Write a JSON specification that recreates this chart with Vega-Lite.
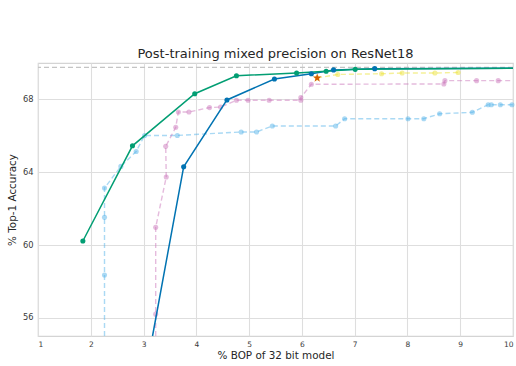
{
  "$schema": "https://vega.github.io/schema/vega-lite/v6.json",
  "autosize": {"type": "none"},
  "width": 475,
  "height": 273,
  "padding": {"left": 38, "top": 63, "right": 3, "bottom": 30},
  "background": "white",
  "config": {
    "font": "DejaVu Sans",
    "view": {"stroke": "#d4d4d4", "strokeWidth": 1.2},
    "axis": {"grid": true, "gridColor": "#dedede", "gridWidth": 1.1, "domain": false, "ticks": false, "labelColor": "#3a3a3a", "titleColor": "#262626", "titleFontWeight": "normal", "labelOverlap": false},
    "legend": {"labelColor": "#262626"}
  },
  "title": {"text": "Post-training mixed precision on ResNet18", "fontSize": 13, "offset": 2, "anchor": "middle", "fontWeight": "normal", "color": "#262626"},
  "datasets": {
    "base": [
      {"s": "Baseline Mixed 16/4", "i": 1, "x": 2.26, "y": 55},
      {"s": "Baseline Mixed 16/4", "i": 2, "x": 2.26, "y": 58.35},
      {"s": "Baseline Mixed 16/4", "i": 3, "x": 2.26, "y": 61.52},
      {"s": "Baseline Mixed 16/4", "i": 4, "x": 2.26, "y": 63.13},
      {"s": "Baseline Mixed 16/4", "i": 5, "x": 2.57, "y": 64.32},
      {"s": "Baseline Mixed 16/4", "i": 6, "x": 2.86, "y": 65.14},
      {"s": "Baseline Mixed 16/4", "i": 7, "x": 3.02, "y": 66.02},
      {"s": "Baseline Mixed 16/4", "i": 8, "x": 3.64, "y": 66.02},
      {"s": "Baseline Mixed 16/4", "i": 9, "x": 4.85, "y": 66.21},
      {"s": "Baseline Mixed 16/4", "i": 10, "x": 5.14, "y": 66.21},
      {"s": "Baseline Mixed 16/4", "i": 11, "x": 5.44, "y": 66.54},
      {"s": "Baseline Mixed 16/4", "i": 12, "x": 6.64, "y": 66.54},
      {"s": "Baseline Mixed 16/4", "i": 13, "x": 6.81, "y": 66.94},
      {"s": "Baseline Mixed 16/4", "i": 14, "x": 8.01, "y": 66.94},
      {"s": "Baseline Mixed 16/4", "i": 15, "x": 8.31, "y": 66.94},
      {"s": "Baseline Mixed 16/4", "i": 16, "x": 8.61, "y": 67.21},
      {"s": "Baseline Mixed 16/4", "i": 17, "x": 9.23, "y": 67.29},
      {"s": "Baseline Mixed 16/4", "i": 18, "x": 9.53, "y": 67.71},
      {"s": "Baseline Mixed 16/4", "i": 19, "x": 9.59, "y": 67.71},
      {"s": "Baseline Mixed 16/4", "i": 20, "x": 9.76, "y": 67.71},
      {"s": "Baseline Mixed 16/4", "i": 21, "x": 9.98, "y": 67.71},
      {"s": "Baseline Mixed 16/4", "i": 22, "x": 10, "y": 67.71},
      {"s": "Baseline Mixed 16/8/4", "i": 1, "x": 3.23, "y": 55},
      {"s": "Baseline Mixed 16/8/4", "i": 2, "x": 3.23, "y": 56.2},
      {"s": "Baseline Mixed 16/8/4", "i": 3, "x": 3.23, "y": 60.97},
      {"s": "Baseline Mixed 16/8/4", "i": 4, "x": 3.43, "y": 63.74},
      {"s": "Baseline Mixed 16/8/4", "i": 5, "x": 3.42, "y": 65.42},
      {"s": "Baseline Mixed 16/8/4", "i": 6, "x": 3.61, "y": 66.47},
      {"s": "Baseline Mixed 16/8/4", "i": 7, "x": 3.66, "y": 67.31},
      {"s": "Baseline Mixed 16/8/4", "i": 8, "x": 3.86, "y": 67.31},
      {"s": "Baseline Mixed 16/8/4", "i": 9, "x": 4.25, "y": 67.55},
      {"s": "Baseline Mixed 16/8/4", "i": 10, "x": 4.46, "y": 67.58},
      {"s": "Baseline Mixed 16/8/4", "i": 11, "x": 4.76, "y": 67.95},
      {"s": "Baseline Mixed 16/8/4", "i": 12, "x": 4.98, "y": 67.95},
      {"s": "Baseline Mixed 16/8/4", "i": 13, "x": 5.38, "y": 67.95},
      {"s": "Baseline Mixed 16/8/4", "i": 14, "x": 5.98, "y": 67.95},
      {"s": "Baseline Mixed 16/8/4", "i": 15, "x": 5.98, "y": 68.1},
      {"s": "Baseline Mixed 16/8/4", "i": 16, "x": 6.18, "y": 68.83},
      {"s": "Baseline Mixed 16/8/4", "i": 17, "x": 8.69, "y": 68.85},
      {"s": "Baseline Mixed 16/8/4", "i": 18, "x": 8.71, "y": 69.03},
      {"s": "Baseline Mixed 16/8/4", "i": 19, "x": 9.31, "y": 69.03},
      {"s": "Baseline Mixed 16/8/4", "i": 20, "x": 9.72, "y": 69.03},
      {"s": "Baseline Mixed 16/8/4", "i": 21, "x": 10, "y": 69.03},
      {"s": "Baseline Mixed 16/8", "i": 1, "x": 6.29, "y": 69.18},
      {"s": "Baseline Mixed 16/8", "i": 2, "x": 6.68, "y": 69.37},
      {"s": "Baseline Mixed 16/8", "i": 3, "x": 7.51, "y": 69.41},
      {"s": "Baseline Mixed 16/8", "i": 4, "x": 7.9, "y": 69.45},
      {"s": "Baseline Mixed 16/8", "i": 5, "x": 8.52, "y": 69.45},
      {"s": "Baseline Mixed 16/8", "i": 6, "x": 8.96, "y": 69.48}
    ],
    "bb": [
      {"s": "Bayesian Bits Post-training, gates only", "i": 1, "x": 3.17, "y": 55},
      {"s": "Bayesian Bits Post-training, gates only", "i": 2, "x": 3.76, "y": 64.3},
      {"s": "Bayesian Bits Post-training, gates only", "i": 3, "x": 4.58, "y": 67.97},
      {"s": "Bayesian Bits Post-training, gates only", "i": 4, "x": 5.48, "y": 69.12},
      {"s": "Bayesian Bits Post-training, gates only", "i": 5, "x": 6.18, "y": 69.41},
      {"s": "Bayesian Bits Post-training, gates only", "i": 6, "x": 6.6, "y": 69.62},
      {"s": "Bayesian Bits Post-training, gates only", "i": 7, "x": 7.38, "y": 69.69},
      {"s": "Bayesian Bits Post-training, gates only", "i": 8, "x": 10, "y": 69.71},
      {"s": "Bayesian Bits Post-training, gates and scales", "i": 1, "x": 1.85, "y": 60.22},
      {"s": "Bayesian Bits Post-training, gates and scales", "i": 2, "x": 2.79, "y": 65.45},
      {"s": "Bayesian Bits Post-training, gates and scales", "i": 3, "x": 3.97, "y": 68.31},
      {"s": "Bayesian Bits Post-training, gates and scales", "i": 4, "x": 4.76, "y": 69.3},
      {"s": "Bayesian Bits Post-training, gates and scales", "i": 5, "x": 5.9, "y": 69.45},
      {"s": "Bayesian Bits Post-training, gates and scales", "i": 6, "x": 6.46, "y": 69.55},
      {"s": "Bayesian Bits Post-training, gates and scales", "i": 7, "x": 7.01, "y": 69.65},
      {"s": "Bayesian Bits Post-training, gates and scales", "i": 8, "x": 10, "y": 69.71}
    ],
    "star": [{"s": "Baseline Fixed 8/8", "x": 6.29, "y": 69.18}],
    "fp32": [{"s": "FP32 Baseline", "y": 69.76}],
    "leg": [
      {"s": "Bayesian Bits Post-training, gates only", "x": -5, "y": 60},
      {"s": "Baseline Mixed 16/4", "x": -5, "y": 60},
      {"s": "Bayesian Bits Post-training, gates and scales", "x": -5, "y": 60},
      {"s": "Baseline Fixed 8/8", "x": -5, "y": 60},
      {"s": "Baseline Mixed 16/8/4", "x": -5, "y": 60},
      {"s": "FP32 Baseline", "x": -5, "y": 60},
      {"s": "Baseline Mixed 16/8", "x": -5, "y": 60}
    ]
  },
  "layer": [
    {
      "data": {"name": "fp32"},
      "mark": {"type": "rule", "color": "#c4c4c4", "strokeWidth": 1.3, "strokeDash": [5, 3]},
      "encoding": {
        "y": {"field": "y", "type": "quantitative", "scale": {"domain": [55, 70], "nice": false, "zero": false}, "axis": {"values": [56, 58, 60, 62, 64, 66, 68, 70], "labelFontSize": 8.3, "labelPadding": 5, "title": "% Top-1 Accuracy", "titleFontSize": 10.4, "titlePadding": 5}}
      }
    },
    {
      "data": {"name": "base"},
      "mark": {"type": "line", "strokeWidth": 1.4, "strokeDash": [5, 3], "opacity": 0.5},
      "encoding": {
        "x": {"field": "x", "type": "quantitative", "scale": {"domain": [1, 10], "nice": false, "zero": false}, "axis": {"values": [1, 2, 3, 4, 5, 6, 7, 8, 9, 10], "format": "d", "labelFontSize": 7.5, "labelPadding": 4, "title": "% BOP of 32 bit model", "titleFontSize": 10.4, "titlePadding": 3}},
        "y": {"field": "y", "type": "quantitative"},
        "order": {"field": "i", "type": "quantitative"},
        "stroke": {"field": "s", "type": "nominal", "legend": null, "scale": {"domain": ["Bayesian Bits Post-training, gates only", "Baseline Mixed 16/4", "Bayesian Bits Post-training, gates and scales", "Baseline Fixed 8/8", "Baseline Mixed 16/8/4", "FP32 Baseline", "Baseline Mixed 16/8"], "range": ["#0173B2", "#56B4E9", "#029E73", "#D55E00", "#CC78BC", "#949494", "#ECE133"]}}
      }
    },
    {
      "data": {"name": "base"},
      "transform": [{"filter": "datum.y > 55 && datum.x < 10"}],
      "mark": {"type": "point", "filled": true, "size": 26, "opacity": 0.5},
      "encoding": {
        "x": {"field": "x", "type": "quantitative"},
        "y": {"field": "y", "type": "quantitative"},
        "fill": {"field": "s", "type": "nominal", "legend": null, "scale": {"domain": ["Bayesian Bits Post-training, gates only", "Baseline Mixed 16/4", "Bayesian Bits Post-training, gates and scales", "Baseline Fixed 8/8", "Baseline Mixed 16/8/4", "FP32 Baseline", "Baseline Mixed 16/8"], "range": ["#0173B2", "#56B4E9", "#029E73", "#D55E00", "#CC78BC", "#949494", "#ECE133"]}}
      }
    },
    {
      "data": {"name": "bb"},
      "mark": {"type": "line", "strokeWidth": 1.5},
      "encoding": {
        "x": {"field": "x", "type": "quantitative"},
        "y": {"field": "y", "type": "quantitative"},
        "order": {"field": "i", "type": "quantitative"},
        "stroke": {"field": "s", "type": "nominal", "legend": null}
      }
    },
    {
      "data": {"name": "bb"},
      "transform": [{"filter": "datum.y > 55 && datum.x < 10"}],
      "mark": {"type": "point", "filled": true, "size": 26, "opacity": 1},
      "encoding": {
        "x": {"field": "x", "type": "quantitative"},
        "y": {"field": "y", "type": "quantitative"},
        "fill": {"field": "s", "type": "nominal", "legend": null}
      }
    },
    {
      "data": {"name": "star"},
      "mark": {"type": "point", "filled": true, "shape": "M0,-1L0.225,-0.309L0.951,-0.309L0.363,0.118L0.588,0.809L0,0.382L-0.588,0.809L-0.363,0.118L-0.951,-0.309L-0.225,-0.309Z", "size": 85, "color": "#D55E00", "opacity": 1},
      "encoding": {
        "x": {"field": "x", "type": "quantitative"},
        "y": {"field": "y", "type": "quantitative"}
      }
    },
    {
      "data": {"name": "leg"},
      "mark": {"type": "point", "clip": true, "filled": true, "opacity": 1},
      "encoding": {
        "x": {"field": "x", "type": "quantitative"},
        "y": {"field": "y", "type": "quantitative"},
        "shape": {"field": "s", "type": "nominal", "title": null, "scale": {"domain": ["Bayesian Bits Post-training, gates only", "Baseline Mixed 16/4", "Bayesian Bits Post-training, gates and scales", "Baseline Fixed 8/8", "Baseline Mixed 16/8/4", "FP32 Baseline", "Baseline Mixed 16/8"], "range": [
          "M-1.6,-0.13H1.6V0.13H-1.6ZM0.57,0A0.57,0.57,0,1,1,-0.57,0A0.57,0.57,0,1,1,0.57,0Z",
          "M-1.6,-0.13H-0.85V0.13H-1.6ZM0.85,-0.13H1.6V0.13H0.85ZM0.57,0A0.57,0.57,0,1,1,-0.57,0A0.57,0.57,0,1,1,0.57,0Z",
          "M-1.6,-0.13H1.6V0.13H-1.6ZM0.57,0A0.57,0.57,0,1,1,-0.57,0A0.57,0.57,0,1,1,0.57,0Z",
          "M0,-1L0.225,-0.309L0.951,-0.309L0.363,0.118L0.588,0.809L0,0.382L-0.588,0.809L-0.363,0.118L-0.951,-0.309L-0.225,-0.309Z",
          "M-1.6,-0.13H-0.85V0.13H-1.6ZM0.85,-0.13H1.6V0.13H0.85ZM0.57,0A0.57,0.57,0,1,1,-0.57,0A0.57,0.57,0,1,1,0.57,0Z",
          "M-1.6,-0.13H-0.8V0.13H-1.6ZM-0.4,-0.13H0.4V0.13H-0.4ZM0.8,-0.13H1.6V0.13H0.8Z",
          "M-1.6,-0.13H-0.85V0.13H-1.6ZM0.85,-0.13H1.6V0.13H0.85ZM0.57,0A0.57,0.57,0,1,1,-0.57,0A0.57,0.57,0,1,1,0.57,0Z"
        ]}, "legend": {"orient": "none", "legendX": 83, "legendY": -62, "columns": 2, "columnPadding": 20, "rowPadding": 1, "symbolSize": 110, "symbolStrokeWidth": 0, "labelFontSize": 7.5, "labelOffset": 9, "labelLimit": 400, "direction": "vertical"}},
        "color": {"field": "s", "type": "nominal", "title": null, "scale": {"domain": ["Bayesian Bits Post-training, gates only", "Baseline Mixed 16/4", "Bayesian Bits Post-training, gates and scales", "Baseline Fixed 8/8", "Baseline Mixed 16/8/4", "FP32 Baseline", "Baseline Mixed 16/8"], "range": ["#0173B2", "#A2D6F3", "#029E73", "#D55E00", "#E3B5DA", "#C4C4C4", "#F5EE8F"]}, "legend": {"orient": "none", "legendX": 83, "legendY": -62, "columns": 2, "columnPadding": 20, "rowPadding": 1, "symbolSize": 110, "symbolStrokeWidth": 0, "labelFontSize": 7.5, "labelOffset": 9, "labelLimit": 400, "direction": "vertical"}}
      }
    }
  ]
}
